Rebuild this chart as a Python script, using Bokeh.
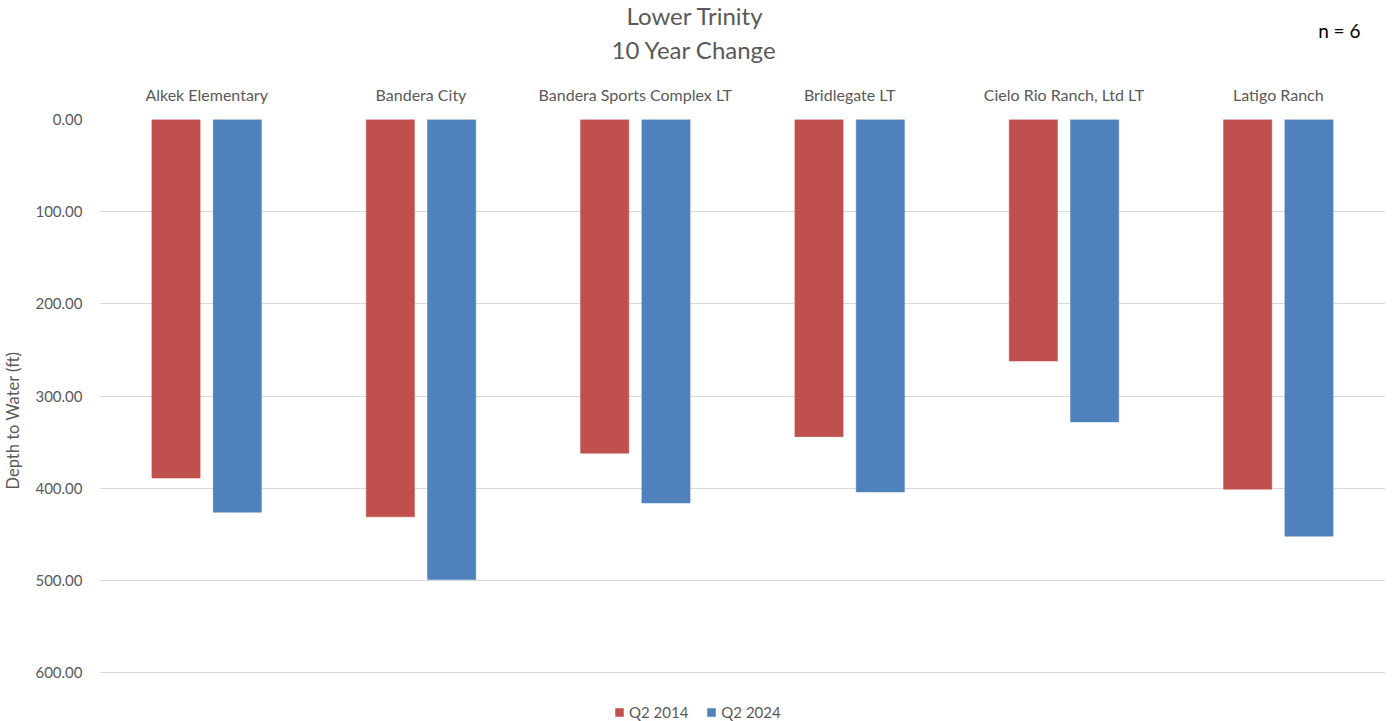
from bokeh.plotting import figure
from bokeh.models import (ColumnDataSource, Range1d, FactorRange, Title, Legend, LegendItem,
                          NumeralTickFormatter, FixedTicker)
from bokeh.transform import dodge
from bokeh.embed import file_html
from bokeh.resources import INLINE

categories = ["Alkek Elementary", "Bandera City", "Bandera Sports Complex LT",
              "Bridlegate LT", "Cielo Rio Ranch, Ltd LT", "Latigo Ranch"]
q2_2014 = [389, 431, 362, 344, 262, 401]
q2_2024 = [426, 499, 416, 404, 328, 452]
y_ticks = [0, 100, 200, 300, 400, 500, 600]

FONT = "Lato"
GREY = "#595959"
RED = "#C0504D"
BLUE = "#4F81BD"

src = ColumnDataSource(dict(cat=categories, a=q2_2014, b=q2_2024, zero=[0] * len(categories)))

# frame runs from the 0 gridline down to the bottom of the page (legend sits inside, below 600)
p = figure(frame_width=1286, frame_height=602, output_backend="svg", toolbar_location=None,
           x_range=FactorRange(*categories, range_padding=0),
           y_range=Range1d(653, 0), x_axis_location="above",
           min_border_left=0, min_border_right=0, min_border_top=0, min_border_bottom=0)
p.outline_line_color = None
p.background_fill_color = "white"

r1 = p.vbar(x=dodge("cat", -0.143, range=p.x_range), top="zero", bottom="a", width=0.225,
            source=src, fill_color=RED, line_color=RED, line_width=0.5)
r2 = p.vbar(x=dodge("cat", 0.143, range=p.x_range), top="zero", bottom="b", width=0.225,
            source=src, fill_color=BLUE, line_color=BLUE, line_width=0.5)

# axes
xa = p.xaxis[0]
xa.axis_line_color = None
xa.major_tick_line_color = None
xa.minor_tick_line_color = None
xa.major_tick_out = 0
xa.major_label_standoff = 16
xa.major_label_text_font = FONT
xa.major_label_text_font_size = "16px"
xa.major_label_text_color = GREY

ya = p.yaxis[0]
ya.ticker = FixedTicker(ticks=y_ticks)
ya.formatter = NumeralTickFormatter(format="0.00")
ya.axis_line_color = None
ya.major_tick_line_color = None
ya.minor_tick_line_color = None
ya.major_tick_out = 0
ya.major_label_standoff = 17
ya.major_label_text_font = FONT
ya.major_label_text_font_size = "15px"
ya.major_label_text_color = GREY
ya.axis_label = "Depth to Water (ft)"
ya.axis_label_text_font = FONT
ya.axis_label_text_font_size = "16.5px"
ya.axis_label_text_font_style = "normal"
ya.axis_label_text_color = GREY
ya.axis_label_standoff = 9

p.xgrid.grid_line_color = None
p.ygrid.grid_line_color = "#D9D9D9"
p.ygrid.grid_line_width = 1
p.ygrid.ticker = FixedTicker(ticks=y_ticks)

# title rows, stacked outward from the category axis
p.add_layout(Title(text=" ", align="left", standoff=9.5, text_font=FONT,
                   text_font_size="1px"), "above")
p.add_layout(Title(text="10 Year Change", align="left", offset=512, standoff=7,
                   vertical_align="middle", text_font=FONT, text_font_size="24px",
                   text_font_style="normal", text_color=GREY), "above")
p.add_layout(Title(text="n = 6", align="right", offset=25, standoff=-44,
                   vertical_align="middle", text_font=FONT, text_font_size="19px",
                   text_font_style="normal", text_color="black"), "above")
p.add_layout(Title(text="Lower Trinity", align="left", offset=527, standoff=-1,
                   vertical_align="middle", text_font=FONT, text_font_size="24px",
                   text_font_style="normal", text_color=GREY), "above")

legend = Legend(items=[LegendItem(label="Q2 2014", renderers=[r1]),
                       LegendItem(label="Q2 2024", renderers=[r2])],
                orientation="horizontal", location=(515, 0),
                border_line_color=None, background_fill_alpha=0,
                glyph_width=10, glyph_height=10, label_standoff=5, spacing=18,
                label_text_font=FONT, label_text_font_size="15px", label_text_color=GREY,
                padding=3, margin=0)
p.add_layout(legend, "center")

open("out.html", "w").write(file_html(p, INLINE))
